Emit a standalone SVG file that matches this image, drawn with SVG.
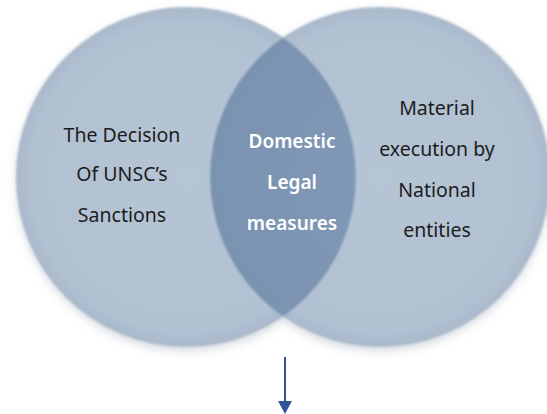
<svg xmlns="http://www.w3.org/2000/svg" width="547" height="414" viewBox="0 0 547 414">
  <style>
    .outer { font-family: "Noto Sans", "Open Sans", sans-serif; font-size: 19.5px; fill: #1c1c1c; text-anchor: middle; }
    .inner { font-family: "Noto Sans", "Open Sans", sans-serif; font-size: 19px; font-weight: 600; fill: #ffffff; text-anchor: middle; }
    .circle { fill: url(#discFill); }
    .arrow { stroke: #2f5597; stroke-width: 2; fill: none; }
    .arrow-tip { fill: #2f5597; }
  </style>
  <defs>
    <radialGradient id="discFill" cx="0.5" cy="0.5" r="0.5">
      <stop offset="0" stop-color="#b6c5d5"/>
      <stop offset="0.9" stop-color="#b2c1d2"/>
      <stop offset="1" stop-color="#a9b9cb"/>
    </radialGradient>
    <radialGradient id="lensFill" cx="0.5" cy="0.5" r="0.5">
      <stop offset="0" stop-color="#8199b6"/>
      <stop offset="1" stop-color="#7a93b1"/>
    </radialGradient>
    <filter id="soft" x="-10%" y="-10%" width="120%" height="125%">
      <feGaussianBlur in="SourceAlpha" stdDeviation="5"/>
      <feOffset dy="4" result="blur"/>
      <feFlood flood-color="#8a96a6" flood-opacity="0.35"/>
      <feComposite in2="blur" operator="in" result="shadow"/>
      <feGaussianBlur in="SourceGraphic" stdDeviation="0.8" result="src"/>
      <feMerge>
        <feMergeNode in="shadow"/>
        <feMergeNode in="src"/>
      </feMerge>
    </filter>
    <clipPath id="leftClip">
      <circle cx="186" cy="177" r="170"/>
    </clipPath>
  </defs>

  <rect width="547" height="414" fill="#ffffff"/>

  <g filter="url(#soft)">
    <g id="sanctions">
      <circle class="circle" cx="186" cy="177" r="170"/>
    </g>
    <g id="execution">
      <circle class="circle" cx="380" cy="177" r="170"/>
    </g>
    <g id="domestic">
      <circle cx="380" cy="177" r="170" fill="url(#lensFill)" clip-path="url(#leftClip)"/>
    </g>
  </g>

  <!-- labels -->
  <g id="sanctions-label" class="outer">
    <text x="122" y="142">The Decision</text>
    <text x="122" y="181">Of UNSC’s</text>
    <text x="122" y="222">Sanctions</text>
  </g>
  <g id="domestic-label" class="inner">
    <text x="292" y="148">Domestic</text>
    <text x="292" y="189">Legal</text>
    <text x="292" y="230">measures</text>
  </g>
  <g id="execution-label" class="outer">
    <text x="437" y="115">Material</text>
    <text x="437" y="156">execution by</text>
    <text x="437" y="197">National</text>
    <text x="437" y="237">entities</text>
  </g>

  <g id="connectors">
    <line class="arrow" x1="285" y1="357" x2="285" y2="402"/>
    <polygon class="arrow-tip" points="278,401 292,401 285,414"/>
  </g>
</svg>
